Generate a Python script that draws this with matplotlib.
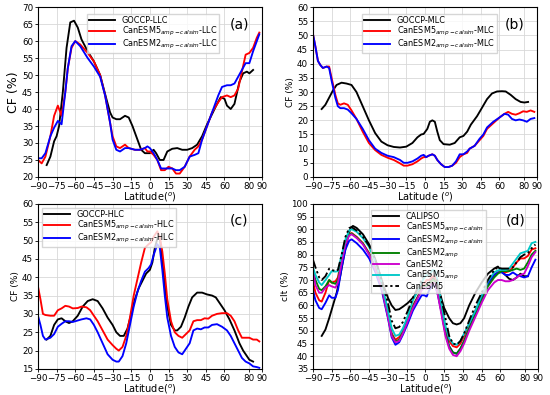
import matplotlib
matplotlib.use("Agg")
import matplotlib.pyplot as plt

# ---------------- Panel (a) LLC ----------------
lat_a_goccp = [-83, -80, -77, -75, -73, -70, -67, -64, -61, -58, -55, -50, -45, -40, -35, -32, -30, -27, -24, -20, -17, -14, -10, -7, -4, 0, 3, 5, 8, 11, 14, 18, 22, 26, 30, 34, 38, 42, 46, 50, 54, 57, 60, 62, 65, 68, 72, 75, 78, 80, 83]
a_goccp = [23.5, 26, 30.5, 32, 35, 45, 58, 65.5, 66, 64, 60.5, 57, 54, 50, 43, 39, 37.5, 37, 37, 38, 37.5, 35, 31, 28, 27, 27, 28, 27, 25, 25, 27.5, 28.3, 28.5, 28, 28, 28.5, 29.5, 32, 35.5, 38.5, 41.5, 43.5, 43, 41, 40, 41.5, 48, 50.5, 51, 50.5, 51.5]
lat_a_m = [-90, -87, -84, -80, -77, -74, -71, -68, -66, -63, -60, -56, -50, -45, -40, -36, -32, -30, -27, -24, -20, -17, -12, -8, -4, -2, 0, 3, 6, 9, 12, 15, 18, 21, 24, 28, 32, 36, 39, 42, 46, 50, 55, 58, 62, 65, 68, 71, 74, 77, 80, 83, 86, 88]
a_esm5 = [25, 24, 26, 32, 38, 41, 38, 45, 52, 58, 60, 59, 56.5, 54, 50, 44, 36, 32, 29, 28.5, 29.5, 28.5, 28, 28, 28.5, 27.5, 27.5, 26.5, 25, 22, 22, 23, 22.5, 21, 21, 23, 26, 28, 29, 31, 35, 39, 42, 43.5, 44, 43.5, 44, 46, 51, 56, 56.5, 58, 61, 62.5]
a_esm2 = [25.5, 25.5, 27, 32, 34.5, 36.5, 35.5, 45, 52, 58.5, 60, 58.5, 55, 52.5, 49.5, 44, 36, 31, 28, 27.5, 28.5, 28.5, 28, 28, 28.5, 29, 28.5, 27, 25, 22.5, 22.5, 22.5, 22.5, 22, 22, 23, 26, 26.5, 27, 31, 35, 39, 44, 46.5, 47, 47, 47.5, 49.5, 51.5, 53.5, 53.5, 57, 60, 62]

# ---------------- Panel (b) MLC ----------------
lat_b_goccp = [-83, -80, -77, -74, -71, -67, -63, -59, -55, -50, -45, -40, -35, -30, -25, -20, -15, -10, -6, -3, -1, 2, 4, 6, 8, 10, 12, 15, 20, 24, 28, 31, 34, 37, 42, 46, 50, 54, 58, 62, 65, 69, 73, 77, 80, 83]
b_goccp = [24, 25.5, 28, 30.5, 32.5, 33.3, 33, 32.5, 30, 25, 20, 15.5, 12.5, 11.2, 10.6, 10.4, 10.7, 12, 14, 15, 15.2, 17, 19.5, 20, 19.5, 16, 13, 11.6, 11.4, 12, 14, 14.5, 16, 18.5, 21.5, 24.5, 27.5, 29.5, 30.2, 30.3, 30.2, 29, 27.5, 26.5, 26.3, 26.5]
lat_b_m = [-90, -88, -86, -84, -82, -79, -77, -75, -72, -70, -68, -65, -62, -59, -55, -50, -45, -40, -35, -30, -25, -20, -17, -14, -10, -6, -3, -1, 1, 3, 6, 8, 10, 13, 16, 19, 22, 25, 28, 31, 34, 36, 40, 44, 47, 50, 55, 60, 64, 67, 70, 73, 76, 79, 82, 85, 88]
b_esm5 = [50.5, 46, 41, 39.5, 38.5, 39, 39, 35, 29, 26, 25.5, 26, 25.5, 23.5, 20.5, 16, 12, 9.5, 7.8, 6.8, 6, 4.8, 4, 4, 4.5, 5.5, 6.5, 7, 7, 7.5, 8, 7.5, 6, 4.5, 3.5, 3.5, 4, 5, 7, 8, 8.5, 10, 11, 13, 14.5, 17, 19, 21, 22.3, 23, 22.3, 22, 22.5, 23.2, 23, 23.5, 23]
b_esm2 = [50.5, 46, 41, 39.5, 38.5, 39, 38.5, 34, 28, 25, 24.3, 24.3, 23.8, 22.5, 20.5, 17, 13, 10, 8.5, 7.5, 7, 6, 5, 5, 5.5, 6.5, 7.5, 7.8, 7, 7.5, 8, 7.5, 6, 4.5, 3.5, 3.5, 4, 5.5, 8, 8, 9, 10, 11, 13.5, 15, 17.5, 19.5, 21, 22.3, 22, 20.5, 20, 20.3, 20, 19.5, 20.5, 20.8]

# ---------------- Panel (c) HLC ----------------
lat_c_goccp = [-83, -80, -77, -74, -71, -68, -65, -62, -58, -54, -50, -46, -42, -38, -34, -30, -27, -24, -21, -18, -15, -12, -9, -6, -3, 0, 2, 4, 6, 7, 8, 10, 12, 14, 17, 20, 22, 25, 28, 31, 34, 38, 42, 46, 50, 53, 56, 60, 64, 68, 72, 75, 78, 80, 83]
c_goccp = [23, 24, 27, 28.5, 28.8, 28, 27.5, 28, 29.5, 32, 33.5, 34, 33.5, 31.5, 29, 27, 25, 24, 24, 26, 30, 34, 37, 39, 41, 42, 44, 48, 50.5, 51, 50.5, 45, 38, 32, 27, 25.5, 25.5, 26.5, 29, 32, 34.5, 35.8, 35.8, 35.3, 35, 34.5, 33, 31, 28.5, 25.5, 22, 20, 18.5, 17.5, 17]
lat_c_m = [-90, -88, -86, -84, -80, -77, -74, -71, -68, -65, -62, -58, -55, -51, -48, -45, -42, -38, -34, -30, -27, -25, -22, -19, -16, -13, -10, -7, -4, -1, 1, 3, 5, 6, 8, 10, 12, 14, 17, 20, 23, 26, 29, 32, 35, 38, 41, 44, 47, 50, 54, 58, 62, 65, 68, 71, 74, 77, 80, 83, 86, 88]
c_esm5 = [37.5, 34, 30, 29.7, 29.5, 29.5, 31, 31.5, 32.2, 32, 31.5, 31.6, 32, 31.8, 31, 29.5, 28, 25.5, 23, 21.5, 20.5, 20, 21, 24, 29, 35, 39.5, 44, 48, 49, 49.5, 51, 52, 52.5, 51, 47, 41, 34, 28, 25, 24, 23.5, 24.5, 25.5, 28, 28.3, 28.3, 28.8, 28.7, 29.5, 30, 30.2, 30.2, 29.5, 28, 25.5, 23.5, 23.5, 23.5, 23, 23, 22.5]
c_esm2 = [29.5, 27, 24, 23, 23.5, 24.5, 26.5, 27.3, 28, 28, 27.8, 28.2, 28.5, 28.8, 28.5, 27, 25, 22, 19, 17.5, 17, 17, 18.5, 22, 27, 32, 36, 39, 41.5, 42.5, 43.5, 46, 48, 49, 48, 42, 35, 29, 24, 21, 19.5, 19, 20.5, 22, 25.5, 26, 25.8, 26.3, 26.3, 27, 27.2, 26.5, 25.5, 24, 22, 20, 18, 17, 16.5, 15.7, 15.5, 15.3]

# ---------------- Panel (d) clt ----------------
lat_d_cal = [-83, -80, -77, -74, -71, -68, -65, -62, -60, -58, -55, -50, -45, -40, -35, -30, -27, -24, -21, -18, -14, -10, -6, -3, 0, 3, 6, 9, 12, 15, 19, 22, 25, 28, 31, 35, 40, 45, 50, 55, 58, 61, 64, 67, 70, 73, 76, 79, 82]
d_calipso = [48, 50.5, 55, 60, 65, 72, 80, 87, 90.5, 91.3, 90.5, 88, 84, 78, 70, 63, 60, 58.2, 58.5, 59.5, 61, 63, 65.5, 67, 68, 69, 71, 69, 64, 59, 55, 53, 52.5, 53, 55, 60, 65, 69, 72.5, 74.5, 75.3, 73.5, 72, 70.5, 70, 71, 72.5, 71.5, 71.5]
lat_d_m = [-90, -88, -85, -83, -80, -77, -75, -72, -70, -67, -64, -61, -59, -55, -50, -45, -40, -35, -30, -27, -24, -21, -18, -14, -10, -6, -3, -1, 1, 3, 6, 8, 10, 13, 16, 19, 22, 25, 28, 31, 35, 40, 45, 50, 55, 58, 61, 64, 67, 70, 73, 76, 79, 82, 85, 88]
d_esm5_calsim = [69.5, 65, 62, 61.5, 65, 70, 69, 69.5, 71, 79, 85, 88, 88.5, 87, 84.5, 80.5, 75, 68, 57, 49, 46.5, 47.5, 50, 55, 60, 63.5, 67, 68.5, 70, 70, 71.5, 71, 67, 59, 51, 46, 44, 43.5, 45, 48, 53, 58, 63, 68.5, 72, 73, 73.5, 73, 73.5, 75, 77, 78.5, 78.5, 79.5, 82, 82.5]
d_esm2_calsim = [66, 62, 59, 58.5, 61, 64, 63, 63, 66, 75, 82, 85.5, 86, 84.5, 82, 78.5, 73, 66, 55, 47.5, 44.5, 45.5, 48.5, 53, 58, 61.5, 64, 64, 63.5, 66, 68, 67.5, 64, 57, 49, 44, 41.5, 41, 43, 46, 51, 57, 63, 68.5, 72, 73, 73, 72, 72, 73, 72, 71.5, 71, 71.5, 75, 78]
d_esm2_amp = [74, 70, 66.5, 66, 67.5, 70, 69, 68.5, 70, 78, 85, 88, 88.3, 86.8, 84.3, 80.3, 74.5, 67.5, 56, 48.5, 45.8, 46.5, 49.5, 54.5, 59.5, 63.5, 66.5, 67.5, 67.5, 68.5, 70, 69.5, 65, 57, 49, 43.8, 41.5, 41, 43, 46, 51, 56.5, 62, 67.5, 71, 72.5, 73.5, 73.5, 73.5, 74, 74.5, 74, 74.5, 77, 80, 81.5]
d_esm2 = [74, 68, 65, 65, 67, 68, 67.5, 67, 69, 77, 84, 87.5, 88, 86.5, 84, 80, 74, 67, 55.5, 48, 45.5, 46, 49, 54, 59, 63, 66, 67, 66.5, 67.5, 69, 68.5, 64, 56, 48, 43, 40.5, 40, 42, 45, 50, 55.5, 61, 66, 69, 70, 70, 69.5, 69.5, 70, 71, 72, 72.5, 75.5, 79, 81]
d_esm5_amp = [75, 72, 69, 68, 70, 72, 73.5, 73.3, 73.5, 80, 86, 89.5, 90, 89, 86.5, 83, 77, 69, 58, 51, 48, 48.5, 51, 56, 62, 66, 69, 71, 72, 72, 74, 73.5, 69, 60, 52, 47, 45, 44.5, 46, 49, 53, 58, 64, 69.5, 73, 73.8, 74, 74, 74.5, 76.5, 78.5, 80.5, 81, 81.5, 84.5, 85]
d_esm5 = [78, 75, 71, 70, 71.5, 74.5, 74, 73.5, 74, 80, 87, 90.5, 90.8, 89.5, 87, 83.5, 78, 70, 61, 54, 51, 51.5, 53.5, 58, 63, 67, 70, 72.5, 73, 72, 72.5, 71.5, 69, 62, 55, 48, 45, 44.5, 46, 49, 54, 60, 65, 70, 74, 75, 74.5, 74.5, 74.5, 75, 77, 79, 80, 80.5, 82.5, 84]

xticks = [-90, -75, -60, -45, -30, -15, 0, 15, 30, 45, 60, 80, 90]

fig = plt.figure(figsize=(5.5, 3.95), dpi=100)
ax_a = fig.add_axes([0.069, 0.552, 0.407, 0.430])
ax_b = fig.add_axes([0.569, 0.552, 0.407, 0.430])
ax_c = fig.add_axes([0.069, 0.066, 0.407, 0.418])
ax_d = fig.add_axes([0.569, 0.066, 0.409, 0.418])

lw = 1.35

def style(ax, ylim, ylabel, ylabel_size, xlabel, tag):
    ax.set_xlim(-90, 90)
    ax.set_ylim(*ylim)
    ax.set_xticks(xticks)
    ax.set_xticklabels([f"{t}".replace("-", "\u2212") for t in xticks])
    ax.set_yticks(range(ylim[0], ylim[1] + 1, 5))
    ax.tick_params(labelsize=6.3, length=2.5, width=0.6, pad=1)
    ax.grid(True, color="#d8d8d8", linewidth=0.6)
    ax.set_axisbelow(True)
    for s in ax.spines.values():
        s.set_linewidth(0.8)
        s.set_color("black")
    ax.set_xlabel(xlabel, fontsize=7, labelpad=0)
    ax.set_ylabel(ylabel, fontsize=ylabel_size, labelpad=1)
    ax.text(0.9, 0.9, tag, transform=ax.transAxes, fontsize=10, ha="center", va="center")

leg_kw = dict(fontsize=5.9, handlelength=3.2, labelspacing=0.0, borderpad=0.25,
              handletextpad=0.8, frameon=True, edgecolor="#cccccc", fancybox=False)

# (a)
ax_a.plot(lat_a_goccp, a_goccp, color="black", lw=lw, label="GOCCP-LLC")
ax_a.plot(lat_a_m, a_esm5, color="red", lw=lw, label="CanESM5$_{amp-calsim}$-LLC")
ax_a.plot(lat_a_m, a_esm2, color="blue", lw=lw, label="CanESM2$_{amp-calsim}$-LLC")
style(ax_a, (20, 70), "CF (%)", 9, "Latitude($^o$)", "(a)")
ax_a.legend(loc="upper left", bbox_to_anchor=(0.2, 0.985), **leg_kw)

# (b)
ax_b.plot(lat_b_goccp, b_goccp, color="black", lw=lw, label="GOCCP-MLC")
ax_b.plot(lat_b_m, b_esm5, color="red", lw=lw, label="CanESM5$_{amp-calsim}$-MLC")
ax_b.plot(lat_b_m, b_esm2, color="blue", lw=lw, label="CanESM2$_{amp-calsim}$-MLC")
style(ax_b, (0, 60), "CF (%)", 6.5, "Latitude ($^o$)", "(b)")
ax_b.legend(loc="upper left", bbox_to_anchor=(0.2, 0.985), **leg_kw)

# (c)
ax_c.plot(lat_c_goccp, c_goccp, color="black", lw=lw, label="GOCCP-HLC")
ax_c.plot(lat_c_m, c_esm5, color="red", lw=lw, label="CanESM5$_{amp-calsim}$-HLC")
ax_c.plot(lat_c_m, c_esm2, color="blue", lw=lw, label="CanESM2$_{amp-calsim}$-HLC")
style(ax_c, (15, 60), "CF (%)", 6.5, "Latitude($^o$)", "(c)")
ax_c.legend(loc="upper left", bbox_to_anchor=(0.0, 1.0), **leg_kw)

# (d)
ax_d.plot(lat_d_cal, d_calipso, color="black", lw=lw, label="CALIPSO")
ax_d.plot(lat_d_m, d_esm5_calsim, color="red", lw=lw, label="CanESM5$_{amp-calsim}$")
ax_d.plot(lat_d_m, d_esm2_calsim, color="blue", lw=lw, label="CanESM2$_{amp-calsim}$")
ax_d.plot(lat_d_m, d_esm2_amp, color="green", lw=lw, label="CanESM2$_{amp}$")
ax_d.plot(lat_d_m, d_esm2, color="#cc00cc", lw=lw, label="CanESM2")
ax_d.plot(lat_d_m, d_esm5_amp, color="#00c8c8", lw=lw, label="CanESM5$_{amp}$")
ax_d.plot(lat_d_m, d_esm5, color="black", lw=lw, dashes=[5, 1.5, 1.2, 1.5, 1.2, 1.5], label="CanESM5")
style(ax_d, (35, 100), "clt (%)", 6.5, "Latitude($^o$)", "(d)")
ax_d.legend(loc="upper left", bbox_to_anchor=(0.24, 0.99), **leg_kw)

fig.savefig("out.png", dpi=100)
